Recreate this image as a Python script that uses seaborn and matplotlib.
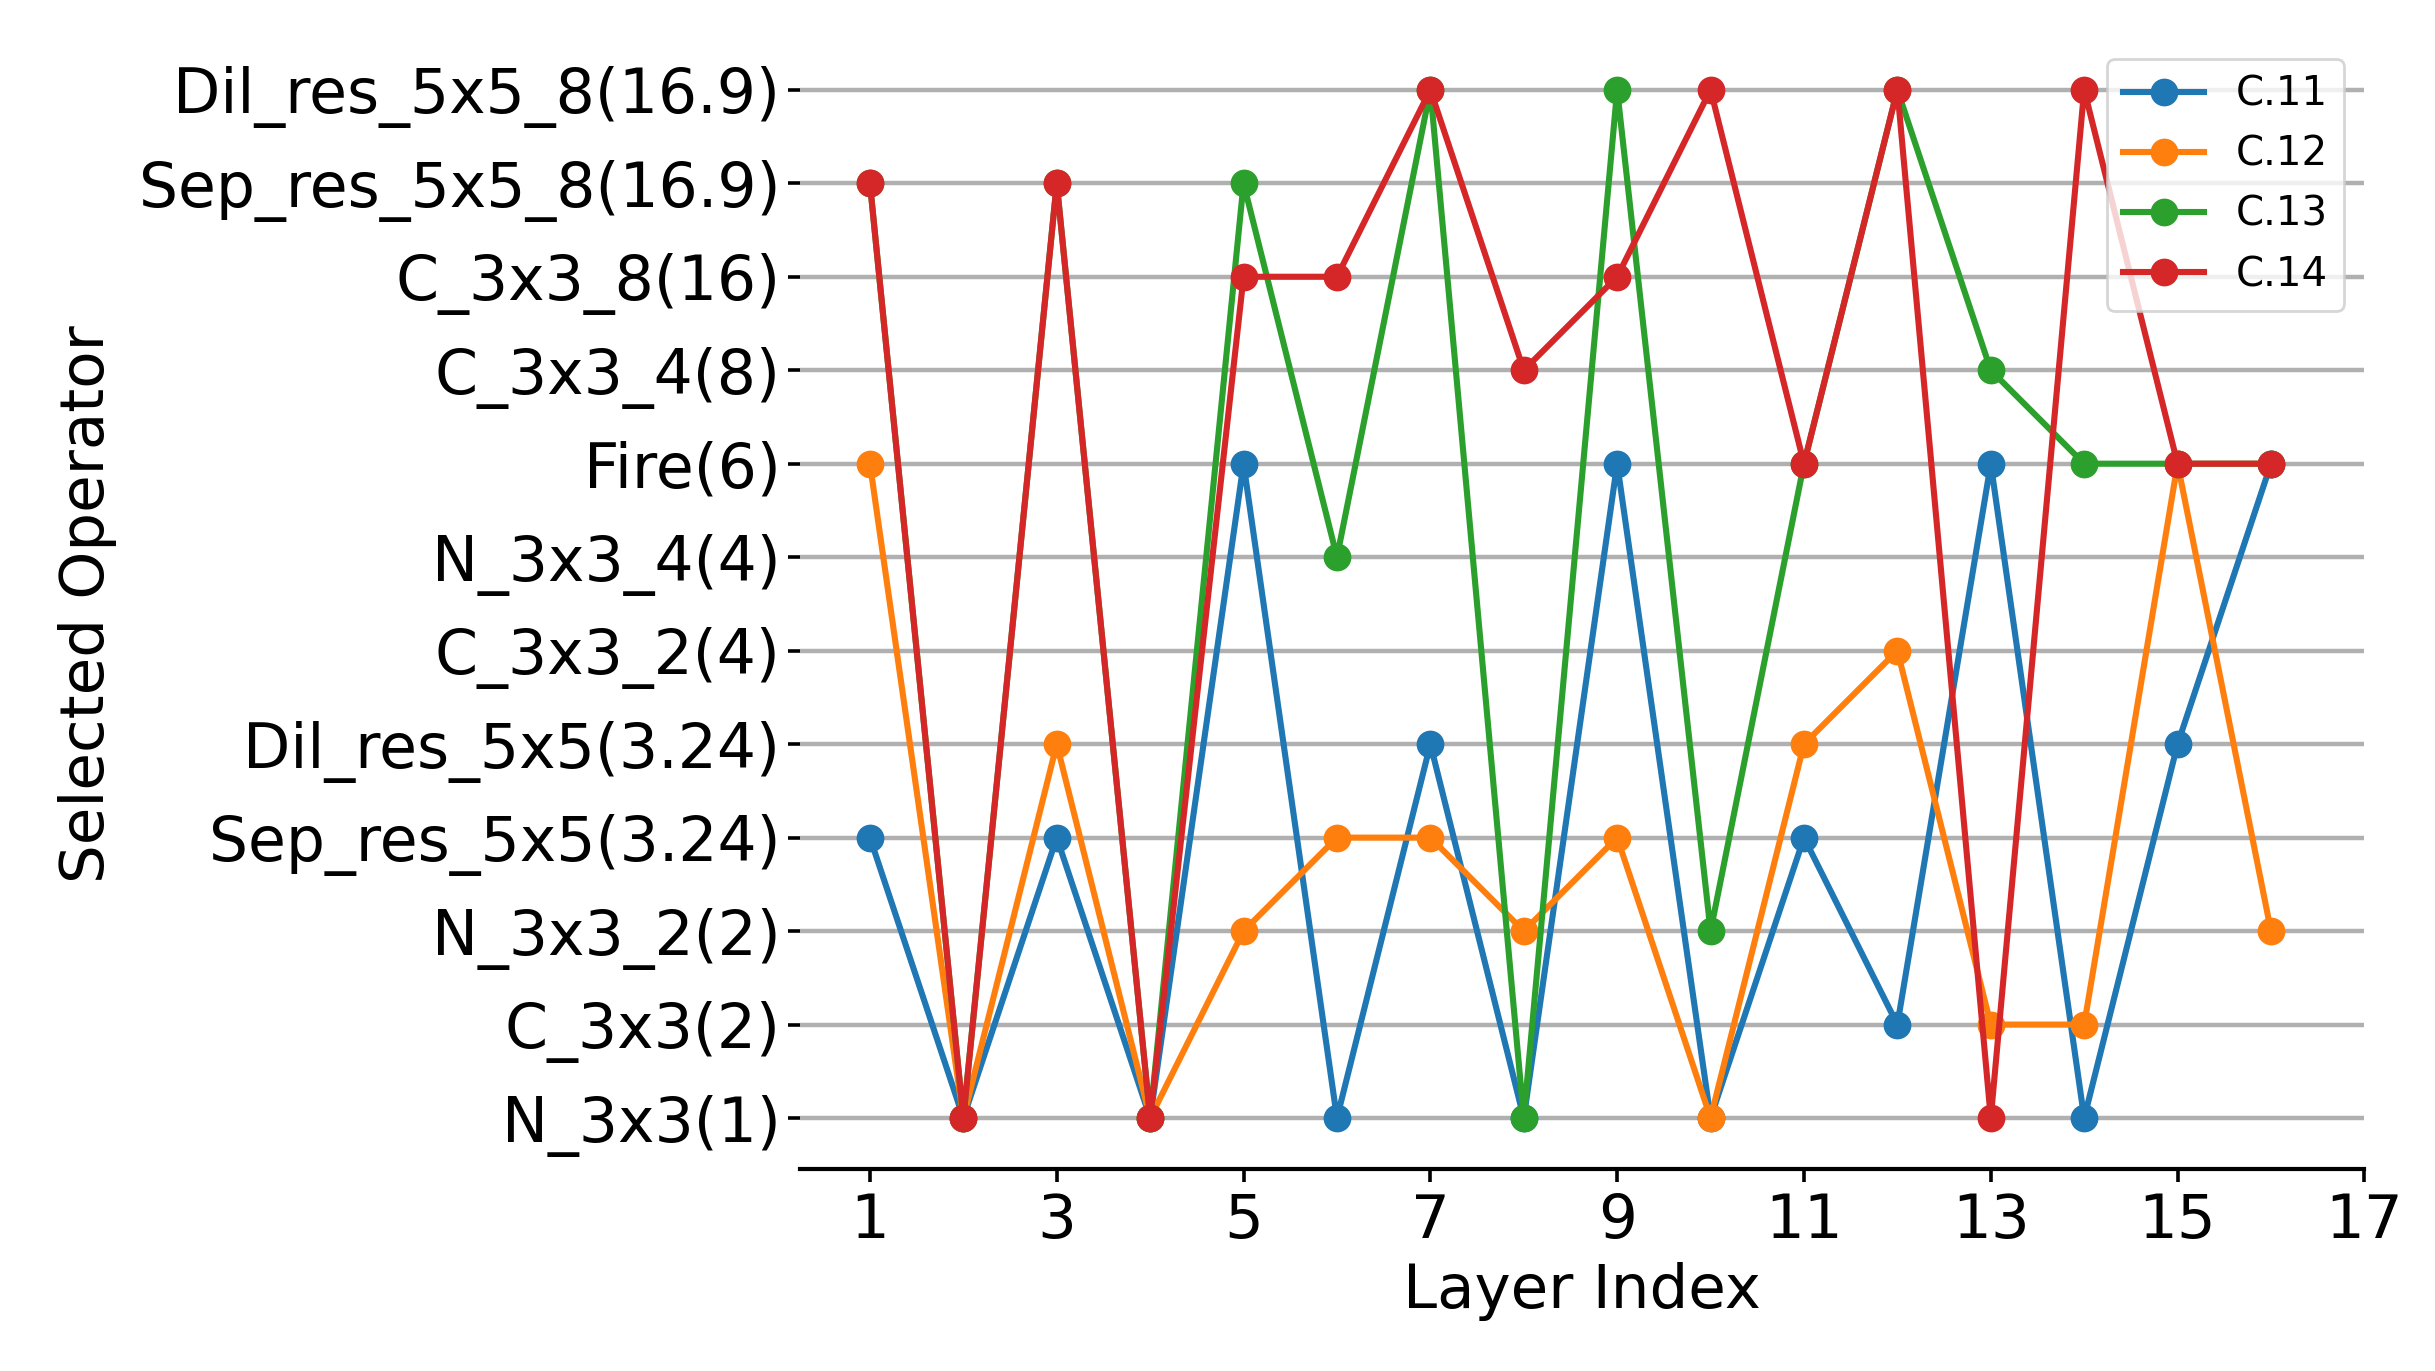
import pandas as pd
import seaborn as sns
import matplotlib.pyplot as plt

# operator names, bottom to top
operators = ['N_3x3(1)', 'C_3x3(2)', 'N_3x3_2(2)', 'Sep_res_5x5(3.24)',
             'Dil_res_5x5(3.24)', 'C_3x3_2(4)', 'N_3x3_4(4)', 'Fire(6)',
             'C_3x3_4(8)', 'C_3x3_8(16)', 'Sep_res_5x5_8(16.9)',
             'Dil_res_5x5_8(16.9)']
layers = list(range(1, 17))

# selected operator index per layer
c11 = [3, 0, 3, 0, 7, 0, 4, 0, 7, 0, 3, 1, 7, 0, 4, 7]
c12 = [7, 0, 4, 0, 2, 3, 3, 2, 3, 0, 4, 5, 1, 1, 7, 2]
c13 = [10, 0, 10, 0, 10, 6, 11, 0, 11, 2, 7, 11, 8, 7, 7, 7]
c14 = [10, 0, 10, 0, 9, 9, 11, 8, 9, 11, 7, 11, 0, 11, 7, 7]
series = {'C.11': c11, 'C.12': c12, 'C.13': c13, 'C.14': c14}

plt.rcParams['font.family'] = ['DejaVu Sans']
fig = plt.figure(figsize=(12.175, 6.855), dpi=200)
ax = fig.add_axes([0.3285, 0.147, 0.6425, 0.825])

colors = sns.color_palette('tab10', 4)
for (name, vals), col in zip(series.items(), colors):
    df = pd.DataFrame({'layer': layers, 'op': vals})
    sns.lineplot(data=df, x='layer', y='op', ax=ax, color=col, label=name,
                 marker='o', markersize=10, markeredgewidth=0, linewidth=2.2)

ax.set_yticks(range(len(operators)))
ax.set_yticklabels(operators, fontsize=22.2)
ax.set_xticks(range(1, 18, 2))
ax.tick_params(axis='x', labelsize=22, length=4.5, width=1.3)
ax.tick_params(axis='y', length=4.5, width=1.3, pad=2.5)
ax.set_xlim(0.25, 17)
ax.set_ylim(-0.55, 11.55)
ax.yaxis.grid(True, color='#b0b0b0', linewidth=1.6)
ax.set_axisbelow(True)
for s in ['top', 'right', 'left']:
    ax.spines[s].set_visible(False)
ax.spines['bottom'].set_linewidth(1.5)

ax.set_xlabel('Layer Index', fontsize=22)
ax.set_ylabel('Selected Operator', fontsize=22, labelpad=8)
ax.legend(loc='upper right', fontsize=14.5)

fig.savefig('out.png', dpi=200)
